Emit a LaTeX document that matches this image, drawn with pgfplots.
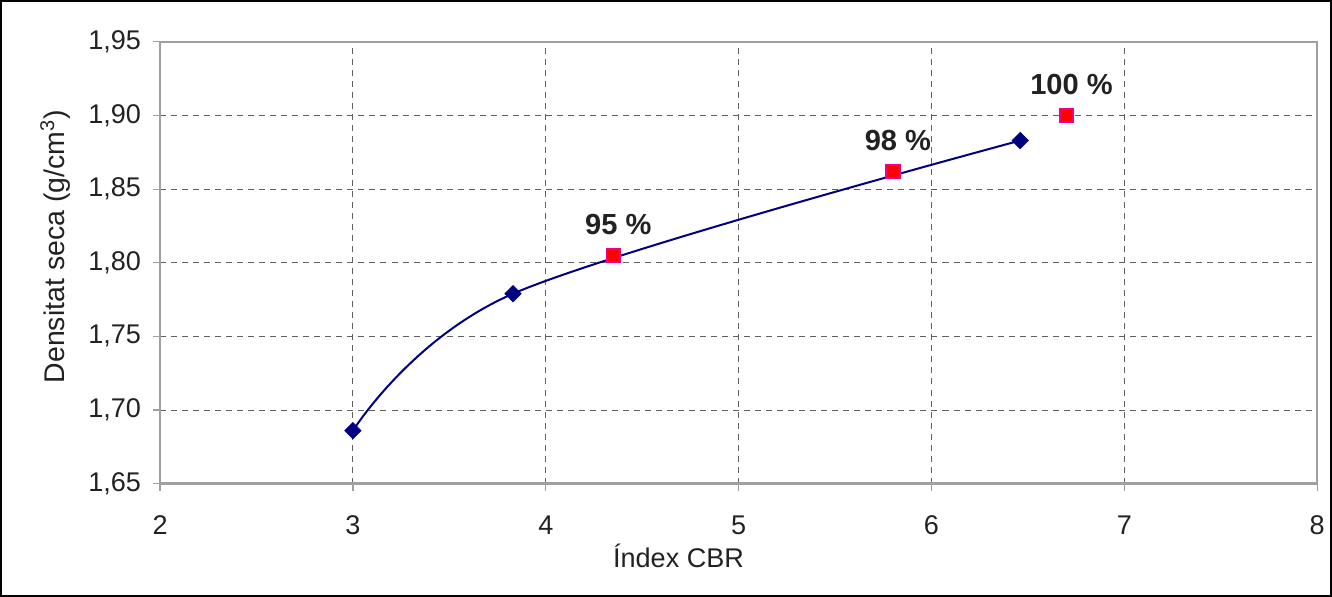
\documentclass[border=0pt]{standalone}
\usepackage{pgfplots}
\pgfplotsset{compat=1.18}
\usepackage{fontspec}
\setmainfont{Liberation Sans}
\definecolor{navyline}{HTML}{000080}
\definecolor{gridgray}{HTML}{606060}
\definecolor{boxgray}{HTML}{A0A0A0}
\definecolor{labtext}{HTML}{222222}

\begin{document}
\begin{tikzpicture}
  % outer chart frame
  \draw[black, line width=0.8pt] (-79.5pt,-56pt) rectangle (584.5pt,241pt);
  \begin{axis}[
    at={(0,0)}, anchor=south west,
    scale only axis,
    width=577.5pt, height=220.5pt,
    xmin=2, xmax=8,
    ymin=1.65, ymax=1.95,
    xtick={2,3,...,8},
    ytick={1.65,1.70,...,1.951},
    axis line style={boxgray, line width=1.2pt},
    tick align=outside,
    xtick pos=left, ytick pos=left,
    major tick length=3.5pt,
    tick style={boxgray, line width=0.6pt},
    grid=major,
    major grid style={gridgray, line width=0.5pt, dash pattern=on 3pt off 2.5pt},
    tick label style={font=\fontsize{13.5}{15}\selectfont, text=labtext},
    /pgf/number format/assume math mode=true,
    y tick label style={xshift=-2.5pt},
    yticklabel style={/pgf/number format/.cd, fixed, fixed zerofill, precision=2, use comma},
    xticklabel style={yshift=-9pt},
    xlabel={Índex CBR},
    ylabel={Densitat seca (g/cm\textsuperscript{3})},
    label style={font=\fontsize{14.2}{16}\selectfont, text=labtext},
    xlabel style={xshift=-30pt, yshift=2.5pt, font=\fontsize{13.5}{16}\selectfont},
    ylabel style={xshift=8pt, yshift=2pt},
    clip=false,
  ]
    \addplot[navyline, line width=1pt, smooth, tension=0.55,
      mark=square*, mark size=2.9pt,
      mark options={rotate=45, fill=navyline, draw=navyline, line width=0.3pt}]
      coordinates {
        (3.00, 1.686)
        (3.83, 1.779)
        (6.46, 1.883)
      };
    \addplot[only marks, mark=square*, mark size=3.4pt,
      mark options={fill=red, draw=magenta, line width=0.9pt},
      point meta=explicit symbolic,
      nodes near coords,
      nodes near coords style={anchor=center, yshift=15.5pt, xshift=2.5pt,
        font=\fontsize{14.5}{16}\selectfont\bfseries, text=labtext}]
      coordinates {
        (4.35, 1.805) [95 \%]
        (5.80, 1.862) [98 \%]
        (6.70, 1.900) [100 \%]
      };
  \end{axis}
\end{tikzpicture}
\end{document}
